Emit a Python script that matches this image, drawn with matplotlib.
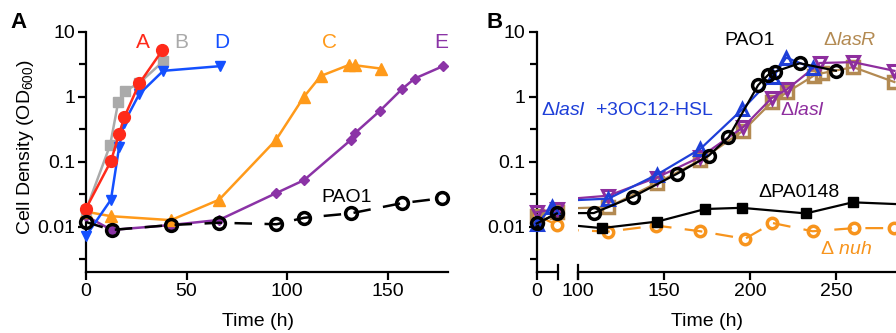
import numpy as np
import matplotlib
matplotlib.use("Agg")
import matplotlib.pyplot as plt
from matplotlib.ticker import FixedLocator, NullFormatter

plt.rcParams['font.family'] = ['Liberation Sans', 'DejaVu Sans']
plt.rcParams['mathtext.fontset'] = 'custom'
plt.rcParams['mathtext.rm'] = 'Liberation Sans'
plt.rcParams['mathtext.it'] = 'Liberation Sans:italic'
plt.rcParams['mathtext.bf'] = 'Liberation Sans:bold'

# ---- Panel A data ----
tA = [0, 12.4, 16.5, 19, 26.5, 38]
odA = [0.019, 0.102, 0.27, 0.48, 1.6, 5.2]
tB = [0, 12, 16, 19.4, 26.3, 38.4]
odB = [0.018, 0.18, 0.82, 1.24, 1.6, 3.5]
tD = [0, 12.4, 16.5, 19, 26.5, 38.4, 66.6]
odD = [0.0072, 0.026, 0.17, 0.40, 1.1, 2.5, 2.95]
tC = [0, 12.4, 42.2, 66.2, 94.4, 108.4, 116.7, 131, 133.6, 146.9]
odC = [0.017, 0.0145, 0.0126, 0.026, 0.215, 1.0, 2.08, 3.1, 3.05, 2.7]
tE = [0, 12.7, 42.2, 66.2, 94.7, 108.4, 131.6, 134, 146, 157, 163.4, 177.5]
odE = [0.0146, 0.0089, 0.0106, 0.0127, 0.033, 0.052, 0.215, 0.28, 0.6, 1.3, 1.9, 2.95]
tP = [0, 12.7, 42.2, 66.2, 94.7, 108.4, 131.6, 157, 177]
odP = [0.0118, 0.0089, 0.0106, 0.0115, 0.0109, 0.0137, 0.016, 0.023, 0.0274]

# ---- Panel B data ----
t_wt = [0, 23, 109, 132, 157.4, 176, 187.4, 204.7, 210.5, 214.4, 228.9, 249.9]
od_wt = [0.0112, 0.016, 0.0162, 0.029, 0.065, 0.124, 0.237, 1.51, 2.16, 2.42, 3.27, 2.51]
t_3oc = [0, 18, 117.5, 145.7, 171, 195.5, 213.4, 221, 236.5]
od_3oc = [0.011, 0.0204, 0.027, 0.063, 0.157, 0.64, 2.0, 4.0, 2.75]
t_lasI = [0, 23, 117.5, 145.7, 171, 196, 212.5, 221.5, 240.6, 260, 284]
od_lasI = [0.0167, 0.0187, 0.030, 0.057, 0.118, 0.34, 0.95, 1.3, 3.3, 3.4, 2.5]
t_lasR = [0, 23, 117.5, 145.7, 171, 196, 212.5, 221.5, 237, 242, 260, 284]
od_lasR = [0.0148, 0.0167, 0.020, 0.047, 0.105, 0.30, 0.82, 1.17, 2.1, 2.3, 2.85, 1.68]
t_pa = [0, 23, 113.6, 146.1, 173.9, 195, 232.5, 259.7, 290]
od_pa = [0.011, 0.016, 0.0095, 0.012, 0.0187, 0.0195, 0.016, 0.0237, 0.022]
t_nuh = [0, 23, 117.5, 145.3, 171, 197, 213, 236.4, 260.7, 284]
od_nuh = [0.0148, 0.0107, 0.0084, 0.0104, 0.0085, 0.0065, 0.0114, 0.0085, 0.0095, 0.0095]

ytick_vals = [0.01, 0.1, 1, 10]
ytick_labels = ['0.01', '0.1', '1', '10']
yminor = [10 ** -2.5, 10 ** -1.5, 10 ** -0.5, 10 ** 0.5]

W, H = 896, 333
fig = plt.figure(figsize=(W / 100, H / 100), dpi=100)

def px_axes(x0, x1, ytop, ybot):
    return fig.add_axes([x0 / W, (H - ybot) / H, (x1 - x0) / W, (ybot - ytop) / H])

LW = 1.6

def style(ax, left=True):
    ax.set_yscale('log')
    ax.set_ylim(0.002, 10)
    for s in ['top', 'right']:
        ax.spines[s].set_visible(False)
    ax.spines['bottom'].set_linewidth(LW)
    ax.spines['left'].set_linewidth(LW)
    ax.yaxis.set_major_locator(FixedLocator(ytick_vals))
    ax.yaxis.set_minor_locator(FixedLocator(yminor))
    ax.yaxis.set_minor_formatter(NullFormatter())
    ax.set_yticklabels(ytick_labels)
    ax.tick_params(which='major', length=6, width=LW, labelsize=14, pad=2)
    ax.tick_params(which='minor', length=5, width=LW)
    ax.tick_params(axis='x', which='minor', length=0)
    if not left:
        ax.spines['left'].set_visible(False)
        ax.tick_params(axis='y', which='both', left=False, labelleft=False)

# ================= Panel A =================
axA = px_axes(86, 448, 31.7, 272.1)
style(axA)
axA.set_xlim(0, 180)
axA.set_xticks([0, 50, 100, 150])

red, grey, blueA, orangeA, purpleA = '#FF2A1A', '#AAAAAA', '#1450FF', '#FF9A1A', '#8B33A6'
kw = dict(lw=1.8, clip_on=False, zorder=3)
axA.plot(tE, odE, color=purpleA, marker='D', ms=5.5, **kw)
axA.plot(tC, odC, color=orangeA, marker='^', ms=8, **kw)
axA.plot(tB, odB, color=grey, marker='s', ms=7.5, **kw)
axA.plot(tD, odD, color=blueA, marker='v', ms=7.5, **kw)
axA.plot(tA, odA, color=red, marker='o', ms=8.5, **kw)
axA.plot(tP, odP, color='black', marker='o', ms=8.5, mfc='none', mew=2.5,
         lw=1.8, dashes=(7, 5), clip_on=False, zorder=4)

lab = dict(fontsize=15, ha='center', va='center')
axA.text(28.3, 6.9, 'A', color=red, **lab)
axA.text(47.2, 6.9, 'B', color=grey, **lab)
axA.text(67.6, 6.9, 'D', color=blueA, **lab)
axA.text(121.2, 6.9, 'C', color=orangeA, **lab)
axA.text(176.4, 6.9, 'E', color=purpleA, **lab)
axA.text(129.7, 0.0286, 'PAO1', color='black', fontsize=14, ha='center', va='center')

# ================= Panel B (broken x axis) =================
ax1 = px_axes(536.7, 557.7, 31.7, 272.1)
ax2 = px_axes(578.3, 578.3 + 200 * 1.718, 31.7, 272.1)
style(ax1)
style(ax2, left=False)
ax1.set_xlim(0, 24)
ax1.set_xticks([0])
ax2.set_xlim(100, 300)
ax2.set_xticks([100, 150, 200, 250])

# break marks
ax1.plot([1, 1], [-0.03, 0.03], transform=ax1.transAxes, color='black', lw=LW, clip_on=False)
ax2.plot([0, 0], [-0.03, 0.03], transform=ax2.transAxes, color='black', lw=LW, clip_on=False)

blueB, purpleB, brownB, orangeB = '#1E3FD8', '#8E2E9E', '#B38A52', '#F7941D'

series_B = [
    (t_nuh, od_nuh, dict(color=orangeB, marker='o', ms=7.5, mfc='none', mew=2.5, dashes=(8, 6))),
    (t_pa, od_pa, dict(color='black', marker='s', ms=7.5)),
    (t_lasR, od_lasR, dict(color=brownB, marker='s', ms=8, mfc='none', mew=2.5)),
    (t_lasI, od_lasI, dict(color=purpleB, marker='v', ms=8, mfc='none', mew=2.2)),
    (t_3oc, od_3oc, dict(color=blueB, marker='^', ms=8, mfc='none', mew=2.2)),
    (t_wt, od_wt, dict(color='black', marker='o', ms=8.5, mfc='none', mew=2.5)),
]
for i, (t, od, st) in enumerate(series_B):
    t = np.array(t)
    od = np.array(od)
    m = t <= 24
    ax1.plot(t[m], od[m], lw=1.6, clip_on=False, zorder=3 + i * 0.1, **st)
    ax2.plot(t, od, lw=1.6, clip_on=True, zorder=3 + i * 0.1, **st)

ax2.text(199.5, 7.45, 'PAO1', color='black', fontsize=14, ha='center', va='center')
ax2.text(257.7, 7.45, r'Δ$\mathit{lasR}$', color=brownB, fontsize=14, ha='center', va='center')
ax2.text(230.6, 0.62, r'Δ$\mathit{lasI}$', color=purpleB, fontsize=14, ha='center', va='center')
ax2.text(128.9, 0.62, r'Δ$\mathit{lasI}$  +3OC12-HSL', color=blueB, fontsize=14, ha='center', va='center')
ax2.text(228.6, 0.0333, 'ΔPA0148', color='black', fontsize=14, ha='center', va='center')
ax2.text(255.8, 0.00449, r'Δ $\mathit{nuh}$', color=orangeB, fontsize=14, ha='center', va='center')

# ---- figure texts ----
fig.text(18 / W, 1 - 22 / H, 'A', fontsize=16, fontweight='bold', ha='center', va='center')
fig.text(495 / W, 1 - 23 / H, 'B', fontsize=16, fontweight='bold', ha='center', va='center')
fig.text(25 / W, 1 - 147 / H, r'Cell Density (OD$_{600}$)', fontsize=14, rotation=90,
         ha='center', va='center')
fig.text(258 / W, 1 - 322 / H, 'Time (h)', fontsize=14, ha='center', va='center')
fig.text(707 / W, 1 - 322 / H, 'Time (h)', fontsize=14, ha='center', va='center')

fig.savefig('out.png', dpi=100)
